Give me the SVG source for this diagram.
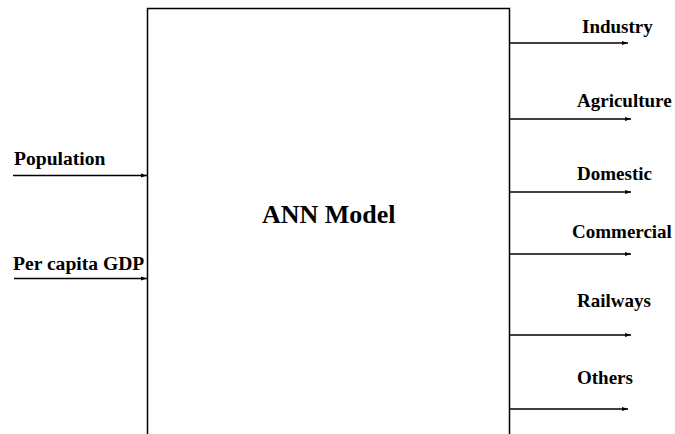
<svg xmlns="http://www.w3.org/2000/svg" width="675" height="434" viewBox="0 0 675 434">
<style>
.t{font-family:"Liberation Serif","Times New Roman",serif;font-weight:bold;font-size:19px;fill:#000}
.l{font-size:19.6px}
.c{stroke:#000;stroke-width:1.3;fill:none;marker-end:url(#ah)}
</style>
<defs>
<marker id="ah" viewBox="0 0 10 10" refX="10" refY="5" markerWidth="6" markerHeight="6" markerUnits="userSpaceOnUse" orient="auto">
<path d="M0,1.5 L10,5 L0,8.5 z" fill="#000"/>
</marker>
</defs>
<rect width="675" height="434" fill="#fff"/>
<g id="ann-model">
<path d="M147.5,434 L147.5,8.5 L509.5,8.5 L509.5,434" fill="none" stroke="#000" stroke-width="1.5"/>
<text class="t" x="262" y="223" style="font-size:26px">ANN Model</text>
</g>
<g id="population"><text class="t l" x="14" y="165">Population</text></g>
<g id="gdp"><text class="t l" x="13" y="270">Per capita GDP</text></g>
<g id="industry"><text class="t" x="582" y="33">Industry</text></g>
<g id="agriculture"><text class="t" x="577" y="107">Agriculture</text></g>
<g id="domestic"><text class="t" x="577" y="180">Domestic</text></g>
<g id="commercial"><text class="t" x="572" y="238">Commercial</text></g>
<g id="railways"><text class="t" x="577" y="307">Railways</text></g>
<g id="others"><text class="t" x="577" y="384">Others</text></g>
<g id="connectors">
<line class="c" x1="13" y1="175.5" x2="147" y2="175.5"/>
<line class="c" x1="14" y1="278.5" x2="147" y2="278.5"/>
<line class="c" x1="509.5" y1="43" x2="628" y2="43"/>
<line class="c" x1="509.5" y1="119" x2="631" y2="119"/>
<line class="c" x1="509.5" y1="192" x2="631" y2="192"/>
<line class="c" x1="509.5" y1="254" x2="631" y2="254"/>
<line class="c" x1="509.5" y1="335" x2="631" y2="335"/>
<line class="c" x1="509.5" y1="409" x2="628" y2="409"/>
</g>
</svg>
